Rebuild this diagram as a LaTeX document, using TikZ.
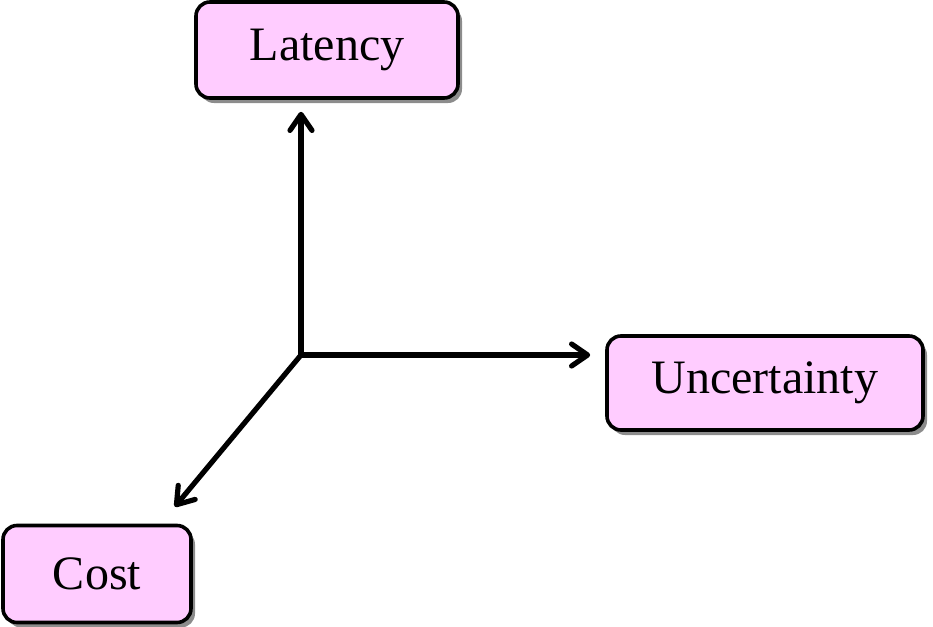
\documentclass[tikz,border=0pt]{standalone}
\usepackage{fontspec}
\setmainfont{Liberation Serif}
\usetikzlibrary{positioning}
\usetikzlibrary{arrows.meta}
\usetikzlibrary{shadows}
\definecolor{box-pink}{HTML}{FFCCFF}
\tikzset{
  axis-box/.style={draw, line width=1.8pt, rounded corners=7pt, fill=box-pink,
    font=\fontsize{24}{28}\selectfont, inner sep=0pt,
    drop shadow={shadow xshift=2pt, shadow yshift=-2.5pt, fill=black, opacity=0.45}},
  axis-path/.style={line width=2.6pt, -{Straight Barb[length=8pt, width=11pt, line width=2.6pt, round]}},
}

\begin{document}
\begin{tikzpicture}[x=0.5pt, y=-0.5pt]
\useasboundingbox (0,0) rectangle (933,627);
% the three boxes
\node[axis-box, minimum width=131pt, minimum height=48pt] (latency) at (327,50) {Latency};
\node[axis-box, minimum width=158pt, minimum height=47pt] (uncertainty) at (765,383) {Uncertainty};
\node[axis-box, minimum width=94pt, minimum height=48.5pt] (cost) at (97,574) {Cost};
% axes
\coordinate (origin) at (301,355);
\coordinate (cost-end) at ([xshift=-9pt, yshift=8.5pt]cost.north east);
\draw[axis-path, shorten >=6pt] (origin) -- (origin |- latency.south);
\draw[axis-path, shorten >=7.5pt] (origin) -- (origin -| uncertainty.west);
\draw[axis-path] (origin) -- (cost-end);
\end{tikzpicture}
\end{document}
